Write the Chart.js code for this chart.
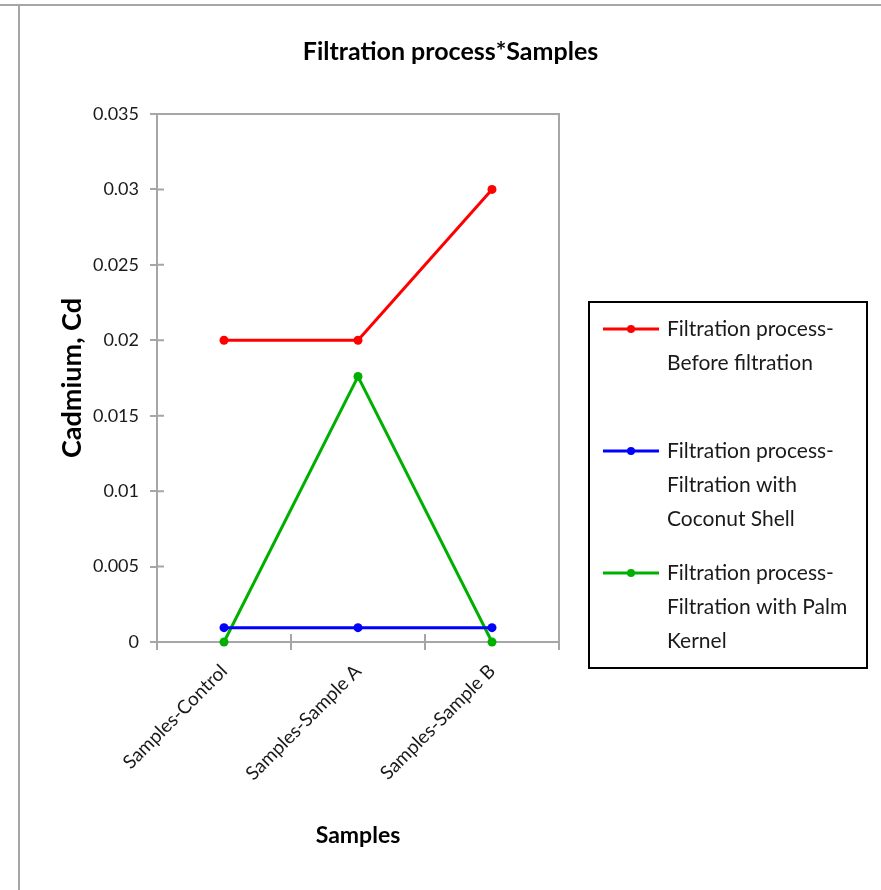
<!DOCTYPE html>
<html>
<head>
<meta charset="utf-8">
<title>Filtration process*Samples</title>
<script src="https://cdn.jsdelivr.net/npm/chart.js@4.4.1/dist/chart.umd.min.js"></script>
<style>
  html, body { margin: 0; padding: 0; background: #fff; }
  #frame-top { position: absolute; left: 0; top: 4px; width: 881px; height: 2px; background: #a6a6a6; }
  #frame-left { position: absolute; left: 18px; top: 4px; width: 2px; height: 886px; background: #a6a6a6; }
  #wrap { position: absolute; left: 20px; top: 6px; width: 861px; height: 884px; }
</style>
</head>
<body>
<div id="frame-top"></div>
<div id="frame-left"></div>
<div id="wrap"><canvas id="chart" width="861" height="884"></canvas></div>
<script>
// Categories along the x axis
const categories = ['Samples-Control', 'Samples-Sample A', 'Samples-Sample B'];

// Cadmium (Cd) readings per filtration stage
const beforeFiltration = [0.02, 0.02, 0.03];
const coconutShell = [0.00095, 0.00095, 0.00095];
const palmKernel = [0, 0.0176, 0];

const seriesNames = [
  'Filtration process-Before filtration',
  'Filtration process-Filtration with Coconut Shell',
  'Filtration process-Filtration with Palm Kernel'
];
// Legend text, line by line
const legendLines = [
  ['Filtration process-', 'Before filtration'],
  ['Filtration process-', 'Filtration with', 'Coconut Shell'],
  ['Filtration process-', 'Filtration with Palm', 'Kernel']
];
const seriesColors = ['#ff0000', '#0000ff', '#00b000'];

const axisGray = '#a6a6a6';
const FONT = 'Lato, "Open Sans", sans-serif';

function makeSet(i, data) {
  return {
    label: seriesNames[i],
    data: data,
    borderColor: seriesColors[i],
    backgroundColor: seriesColors[i],
    borderWidth: 3,
    pointRadius: 4.5,
    pointHoverRadius: 4.5,
    pointBorderWidth: 0,
    tension: 0,
    clip: false
  };
}

// Plot frame (top/right edges) and inward halves of the cross tick marks
const framePlugin = {
  id: 'frame',
  beforeDatasetsDraw(chart) {
    const { ctx, chartArea: a, scales } = chart;
    ctx.save();
    ctx.strokeStyle = axisGray;
    ctx.lineWidth = 2;
    ctx.beginPath();
    ctx.moveTo(a.left, a.top);
    ctx.lineTo(a.right, a.top);
    ctx.lineTo(a.right, a.bottom);
    // y ticks reach into the plot
    scales.y.ticks.forEach(t => {
      const py = scales.y.getPixelForValue(t.value);
      ctx.moveTo(a.left, py);
      ctx.lineTo(a.left + 7, py);
    });
    // x category boundaries reach into the plot
    const x = scales.x;
    const half = (x.getPixelForValue(1) - x.getPixelForValue(0)) / 2;
    for (let i = 1; i < categories.length; i++) {
      const px = x.getPixelForValue(i) - half;
      ctx.moveTo(px, a.bottom);
      ctx.lineTo(px, a.bottom - 8);
    }
    ctx.stroke();
    ctx.restore();
  }
};

// Boxed legend with wrapped labels, laid out as a box on the right side
const boxLegendPlugin = {
  id: 'boxLegend',
  beforeInit(chart) {
    const box = {
      position: 'right',
      weight: 10,
      fullSize: false,
      options: {},
      isHorizontal() { return false; },
      update(maxWidth, maxHeight) {
        this.width = 322;
        this.height = maxHeight;
      },
      draw() {
        const ctx = chart.ctx;
        const a = chart.chartArea;
        const left = this.left + 30, top = a.top + 188, w = 278, h = 366;
        ctx.save();
        ctx.strokeStyle = '#000';
        ctx.lineWidth = 2;
        ctx.strokeRect(left, top, w, h);
        ctx.font = '21px ' + FONT;
        ctx.textBaseline = 'middle';
        ctx.textAlign = 'left';
        chart.data.datasets.forEach((ds, i) => {
          const y0 = top + 27 + i * 122;
          ctx.strokeStyle = ds.borderColor;
          ctx.lineWidth = 3;
          ctx.beginPath();
          ctx.moveTo(left + 14, y0);
          ctx.lineTo(left + 70, y0);
          ctx.stroke();
          ctx.fillStyle = ds.backgroundColor;
          ctx.beginPath();
          ctx.arc(left + 42, y0, 4, 0, Math.PI * 2);
          ctx.fill();
          ctx.fillStyle = '#1a1a1a';
          legendLines[i].forEach((line, k) => {
            ctx.fillText(line, left + 78, y0 + k * 34);
          });
        });
        ctx.restore();
      }
    };
    Chart.layouts.addBox(chart, box);
  }
};

new Chart(document.getElementById('chart'), {
  type: 'line',
  data: {
    labels: categories,
    datasets: [
      makeSet(0, beforeFiltration),
      makeSet(1, coconutShell),
      makeSet(2, palmKernel)
    ]
  },
  plugins: [framePlugin, boxLegendPlugin],
  options: {
    responsive: false,
    animation: false,
    events: [],
    layout: { padding: 0 },
    plugins: {
      legend: { display: false },
      tooltip: { enabled: false },
      title: {
        display: true,
        text: 'Filtration process*Samples',
        color: '#000',
        font: { family: FONT, size: 25, weight: 'bold', lineHeight: 1.2 },
        padding: { top: 31, bottom: 47 }
      }
    },
    scales: {
      x: {
        type: 'category',
        offset: true,
        grid: {
          offset: true,
          drawOnChartArea: false,
          drawTicks: true,
          tickLength: 8,
          color: axisGray,
          lineWidth: 2
        },
        border: { display: true, color: axisGray, width: 2 },
        ticks: {
          color: '#1a1a1a',
          font: { family: FONT, size: 19 },
          minRotation: 45,
          maxRotation: 45,
          padding: 10
        },
        title: {
          display: true,
          text: 'Samples',
          color: '#000',
          font: { family: FONT, size: 23, weight: 'bold', lineHeight: 1.2 },
          padding: { top: 0, bottom: 41 }
        },
        afterFit(scale) { scale.height = 248; }
      },
      y: {
        min: 0,
        max: 0.035,
        grid: {
          drawOnChartArea: false,
          drawTicks: true,
          tickLength: 7,
          color: axisGray,
          lineWidth: 2
        },
        border: { display: true, color: axisGray, width: 2 },
        ticks: {
          stepSize: 0.005,
          color: '#1a1a1a',
          font: { family: FONT, size: 18 },
          padding: 11,
          callback: v => String(Number(v.toFixed(3)))
        },
        title: {
          display: true,
          text: 'Cadmium, Cd',
          color: '#000',
          font: { family: FONT, size: 27, weight: 'bold', lineHeight: 1.2 },
          padding: { top: 36, bottom: 0 }
        },
        afterFit(scale) { scale.width = 137; }
      }
    }
  }
});
</script>
</body>
</html>
